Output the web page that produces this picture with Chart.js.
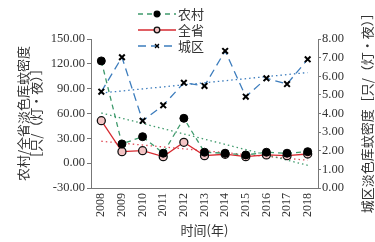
<!DOCTYPE html>
<html>
<head>
<meta charset="utf-8">
<script src="https://cdn.jsdelivr.net/npm/chart.js@4.4.1/dist/chart.umd.min.js"></script>
<style>
  html, body { margin: 0; padding: 0; background: #fff; }
  #wrap { width: 375px; height: 242px; }
</style>
</head>
<body>
<div id="wrap"><canvas id="chart"></canvas></div>
<script>
// years on the x axis
const years = ["2008", "2009", "2010", "2011", "2012", "2013", "2014", "2015", "2016", "2017", "2018"];

// left axis series: 农村 / 全省
const rural = [123.5, 23.2, 32.0, 12.0, 54.2, 13.2, 12.0, 9.9, 13.2, 12.0, 13.9];
const province = [51.3, 13.9, 15.1, 7.9, 25.2, 9.1, 10.8, 7.9, 9.9, 9.1, 11.1];
// right axis series: 城区
const urban = [5.17, 7.02, 3.61, 4.44, 5.65, 5.48, 7.36, 4.90, 5.89, 5.58, 6.91];

// dotted trend lines, value at 2008 and at 2018
const trendYears = ["2008", "2018"];
const ruralTrend = [60.6, -2.6];
const provinceTrend = [26.5, 3.5];
const urbanTrend = [5.1, 6.2];

// axis ranges
const leftRange = [-30, 150, 30];
const rightRange = [0, 8, 1];

const CJK = '"Noto Sans CJK SC", sans-serif';
const SERIF = '"Liberation Serif", "DejaVu Serif", serif';

const trendPoints = vals => trendYears.map((y, i) => ({ x: y, y: vals[i] }));

// legend + right title, drawn by hand so they sit where the original has them
const extrasPlugin = {
  id: "extras",
  afterDraw(chart) {
    const ctx = chart.ctx;
    [0, 1, 2].forEach((di, i) => {
      const ds = chart.data.datasets[di];
      const y = 14 + i * 16;
      ctx.save();
      ctx.strokeStyle = ds.borderColor;
      ctx.lineWidth = ds.borderWidth;
      ctx.setLineDash(ds.borderDash || []);
      ctx.beginPath();
      ctx.moveTo(138, y);
      ctx.lineTo(176, y);
      ctx.stroke();
      ctx.setLineDash([]);
      ctx.fillStyle = ds.pointBackgroundColor;
      ctx.strokeStyle = ds.pointBorderColor;
      Chart.helpers.drawPoint(ctx, {
        pointStyle: ds.pointStyle, rotation: 0,
        radius: 2.8, borderWidth: ds.pointBorderWidth
      }, 157, y);
      ctx.fillStyle = "#333";
      ctx.font = "13px " + CJK;
      ctx.textBaseline = "middle";
      ctx.textAlign = "left";
      ctx.fillText(ds.label, 178, y);
      ctx.restore();
    });

    // right axis title, reading bottom to top
    ctx.save();
    ctx.translate(367, 110);
    ctx.rotate(-Math.PI / 2);
    ctx.fillStyle = "#333";
    ctx.font = "13px " + CJK;
    ctx.textAlign = "center";
    ctx.textBaseline = "middle";
    ctx.fillText("城区淡色库蚊密度［只/（灯·夜）］", 0, 0);
    ctx.restore();
  }
};

new Chart(document.getElementById("chart"), {
  type: "line",
  data: {
    labels: years,
    datasets: [
      {
        label: "农村", data: rural, yAxisID: "y",
        borderColor: "#3f9a6c", borderWidth: 1.3, borderDash: [5, 4],
        pointStyle: "circle", pointRadius: 4,
        pointBackgroundColor: "#000", pointBorderColor: "#000", pointBorderWidth: 1
      },
      {
        label: "全省", data: province, yAxisID: "y",
        borderColor: "#d62a30", borderWidth: 1.3,
        pointStyle: "circle", pointRadius: 4,
        pointBackgroundColor: "#f3c4c4", pointBorderColor: "#111", pointBorderWidth: 1.3
      },
      {
        label: "城区", data: urban, yAxisID: "y1",
        borderColor: "#3d7dbd", borderWidth: 1.3, borderDash: [8, 5],
        pointStyle: "crossRot", pointRadius: 4,
        pointBackgroundColor: "#000", pointBorderColor: "#000", pointBorderWidth: 2
      },
      {
        label: "农村趋势", data: trendPoints(ruralTrend), yAxisID: "y",
        borderColor: "#3f9a6c", borderWidth: 1.3, borderDash: [1.5, 3], pointRadius: 0
      },
      {
        label: "全省趋势", data: trendPoints(provinceTrend), yAxisID: "y",
        borderColor: "#e0505a", borderWidth: 1.3, borderDash: [1.5, 3], pointRadius: 0
      },
      {
        label: "城区趋势", data: trendPoints(urbanTrend), yAxisID: "y1",
        borderColor: "#3d7dbd", borderWidth: 1.3, borderDash: [1.5, 3], pointRadius: 0
      }
    ]
  },
  options: {
    responsive: true,
    maintainAspectRatio: false,
    animation: false,
    layout: { padding: { top: 39, left: 0, right: 0, bottom: 0 } },
    plugins: {
      legend: { display: false },
      tooltip: { enabled: false }
    },
    scales: {
      x: {
        type: "category",
        offset: true,
        grid: { display: false, drawTicks: false },
        border: { display: true, color: "#777", width: 1 },
        ticks: {
          minRotation: 90, maxRotation: 90, padding: 5,
          color: "#333", font: { family: SERIF, size: 12 }
        },
        title: {
          display: true, text: "时间(年)", color: "#333",
          font: { family: CJK, size: 13 }, padding: { top: 0, bottom: 4 }
        },
        afterFit: s => { s.height = 54; }
      },
      y: {
        position: "left",
        min: leftRange[0], max: leftRange[1],
        grid: { drawOnChartArea: false, drawTicks: true, tickLength: 4, color: "#777" },
        border: { display: true, color: "#777", width: 1 },
        ticks: {
          stepSize: leftRange[2], padding: 2, color: "#333",
          font: { family: SERIF, size: 12.5 },
          callback: v => v.toFixed(2)
        },
        title: {
          display: true,
          text: ["农村/全省淡色库蚊密度", "［只/（灯·夜）］"],
          color: "#333",
          font: { family: CJK, size: 13, lineHeight: 1.0 },
          padding: { top: 17, bottom: 0 }
        },
        afterFit: s => { s.width = 91; }
      },
      y1: {
        position: "right",
        min: rightRange[0], max: rightRange[1],
        grid: { drawOnChartArea: false, drawTicks: true, tickLength: 3, color: "#777" },
        border: { display: true, color: "#777", width: 1 },
        ticks: {
          stepSize: rightRange[2], padding: 1, color: "#333",
          font: { family: SERIF, size: 12.5 },
          callback: v => v.toFixed(2)
        },
        afterFit: s => { s.width = 57; }
      }
    }
  },
  plugins: [extrasPlugin]
});
</script>
</body>
</html>
